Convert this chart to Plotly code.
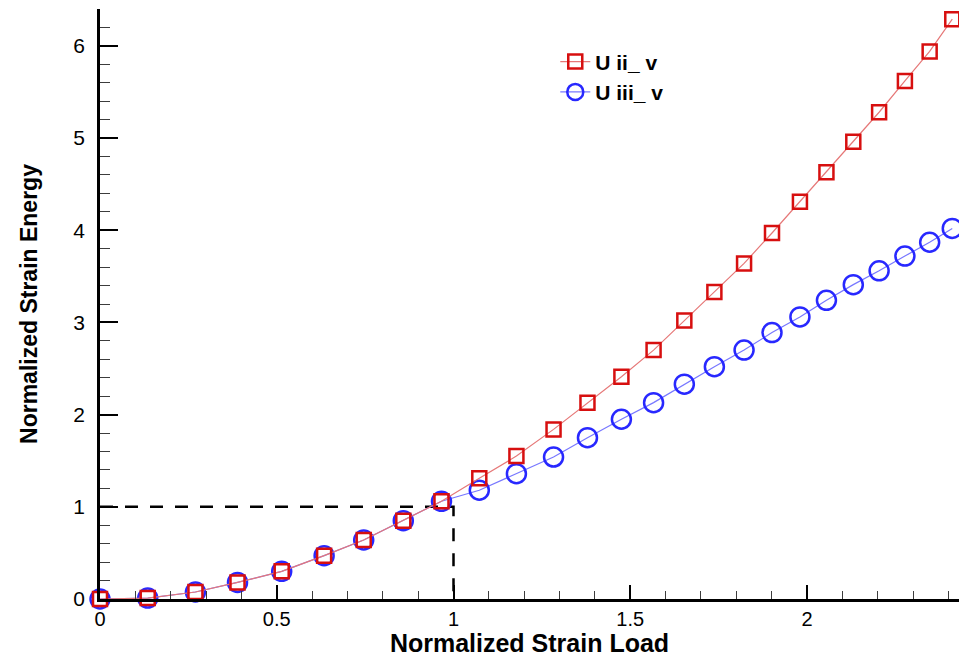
import plotly.graph_objects as go

# Normalized strain load (x) shared by both series
strain_load = [0.0, 0.135, 0.27, 0.389, 0.514, 0.634, 0.746, 0.858, 0.966,
               1.073, 1.178, 1.283, 1.379, 1.475, 1.566, 1.653, 1.738, 1.822,
               1.901, 1.98, 2.055, 2.131, 2.204, 2.277, 2.347, 2.411]

# U ii_ v
u_ii_v = [0.0, 0.01, 0.076, 0.18, 0.30, 0.47, 0.64, 0.85, 1.06,
          1.31, 1.55, 1.84, 2.13, 2.41, 2.70, 3.02, 3.33, 3.64,
          3.97, 4.31, 4.63, 4.96, 5.28, 5.62, 5.94, 6.29]

# U iii_ v
u_iii_v = [0.0, 0.01, 0.076, 0.18, 0.30, 0.47, 0.64, 0.85, 1.06,
           1.18, 1.36, 1.54, 1.75, 1.95, 2.13, 2.33, 2.52, 2.70,
           2.89, 3.06, 3.24, 3.41, 3.56, 3.72, 3.87, 4.02]

# Reference guide (dashed) through the point (1, 1)
guide_x = [0, 1, 1]
guide_y = [1, 1, 0]

x_ticks = [0, 0.5, 1, 1.5, 2]
x_tick_labels = ["0", "0.5", "1", "1.5", "2"]
y_ticks = [0, 1, 2, 3, 4, 5, 6]
y_tick_labels = ["0", "1", "2", "3", "4", "5", "6"]

FONT = "Liberation Sans, Arial, sans-serif"

fig = go.Figure()

fig.add_trace(go.Scatter(
    x=guide_x, y=guide_y, mode="lines",
    line=dict(color="black", width=2.5, dash="13px,12px"),
    showlegend=False, hoverinfo="skip", cliponaxis=False,
))

fig.add_trace(go.Scatter(
    x=strain_load, y=u_iii_v, name="U iii_ v", mode="lines+markers",
    line=dict(color="rgb(120,120,255)", width=1.2),
    marker=dict(symbol="circle-open", size=19, color="rgb(40,40,255)",
                line=dict(width=2.5, color="rgb(40,40,255)")),
    cliponaxis=False,
))

fig.add_trace(go.Scatter(
    x=strain_load, y=u_ii_v, name="U ii_ v", mode="lines+markers",
    line=dict(color="rgb(230,120,120)", width=1.2),
    marker=dict(symbol="square-open", size=14, color="rgb(215,15,15)",
                line=dict(width=2.5, color="rgb(215,15,15)")),
    cliponaxis=False,
))

fig.update_layout(
    width=959, height=657,
    margin=dict(l=100, r=0, t=9, b=58),
    paper_bgcolor="white", plot_bgcolor="white",
    font=dict(family=FONT, color="black", size=19),
    showlegend=True,
    legend=dict(
        x=0.53, y=0.945, xanchor="left", yanchor="top",
        traceorder="reversed",
        font=dict(family=FONT, size=21, color="black", weight="bold"),
        bgcolor="rgba(0,0,0,0)",
    ),
    xaxis=dict(
        range=[0, 2.43], showgrid=False, zeroline=False,
        showline=True, linecolor="black", linewidth=2.5,
        ticks="inside", ticklen=14, tickwidth=2, tickcolor="black",
        tickvals=x_ticks, ticktext=x_tick_labels,
        tickfont=dict(family=FONT, size=20, color="black"),
        minor=dict(dtick=0.1, ticks="inside", ticklen=8, tickwidth=1.2,
                   tickcolor="rgb(60,60,60)", showgrid=False),
        title=dict(text="Normalized Strain Load", standoff=2,
                   font=dict(family=FONT, size=25, color="black", weight="bold")),
    ),
    yaxis=dict(
        range=[0, 6.4], showgrid=False, zeroline=False,
        showline=True, linecolor="black", linewidth=2.5,
        ticks="inside", ticklen=18, tickwidth=2, tickcolor="black",
        tickvals=y_ticks, ticktext=y_tick_labels,
        tickfont=dict(family=FONT, size=21, color="black"),
        ticklabelstandoff=8,
        minor=dict(dtick=0.2, ticks="inside", ticklen=10, tickwidth=1.2,
                   tickcolor="rgb(60,60,60)", showgrid=False),
        title=dict(text="Normalized Strain Energy", standoff=30,
                   font=dict(family=FONT, size=23, color="black", weight="bold")),
    ),
)

fig.write_html("out.html")
